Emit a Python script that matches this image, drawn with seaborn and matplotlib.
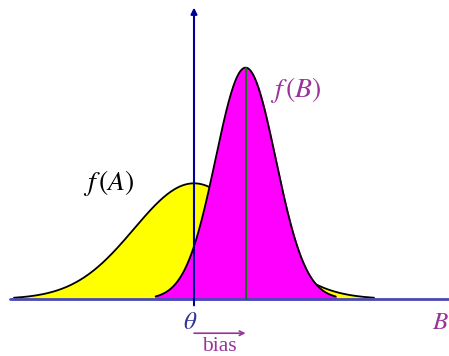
import numpy as np
import matplotlib
matplotlib.use("Agg")
import matplotlib.pyplot as plt
import seaborn as sns

# estimator distributions (theta = 0, units of sigma_A)
theta = 0.0
bias = 0.86
sigma_a = 1.0
sigma_b = 0.5
span = 3.0  # curves drawn over +/- 3 sigma


def normal_pdf(x, mu, s):
    return np.exp(-0.5 * ((x - mu) / s) ** 2) / (s * np.sqrt(2 * np.pi))


sns.set_style("white")
plt.rcParams["mathtext.fontset"] = "stix"

fig = plt.figure(figsize=(4.49, 3.56), dpi=100)
ax = fig.add_axes([0, 0, 1, 1])
ax.set_xlim(-194 / 60, (449 - 194) / 60)
ax.set_ylim(-(356 - 299) / 290, 299 / 290)
ax.axis("off")

xa = np.linspace(theta - span * sigma_a, theta + span * sigma_a, 400)
ya = normal_pdf(xa, theta, sigma_a)
xb = np.linspace(theta + bias - span * sigma_b, theta + bias + span * sigma_b, 400)
yb = normal_pdf(xb, theta + bias, sigma_b)

ax.fill_between(xa, 0, ya, color="#ffff00", zorder=1)
sns.lineplot(x=xa, y=ya, color="black", linewidth=1.3, ax=ax, zorder=2)
ax.fill_between(xb, 0, yb, color="#ff00ff", zorder=3)
sns.lineplot(x=xb, y=yb, color="black", linewidth=1.3, ax=ax, zorder=4)

# axes
ax.plot([-3.06, 4.3], [0, 0], color="#4848b8", linewidth=2, zorder=5)
ax.annotate("", xy=(theta, 1.005), xytext=(theta, -0.022),
            arrowprops=dict(arrowstyle="-|>", color="#000099", lw=1.5,
                            mutation_scale=9, shrinkA=0, shrinkB=0), zorder=6)
ax.plot([theta + bias, theta + bias], [0, normal_pdf(0, 0, sigma_b)],
        color="#008000", linewidth=1.3, zorder=6)

# labels
ax.text(-1.43, 0.40, "$f\\,(A)$", fontsize=20, color="black", ha="center", va="center")
ax.text(1.7, 0.72, "$f\\,(B)$", fontsize=20, color="#993399", ha="center", va="center")
ax.text(theta - 0.06, -0.08, r"$\theta$", fontsize=18, color="#333399", ha="center", va="center")
ax.text(4.1, -0.08, "$B$", fontsize=18, color="#993399", ha="center", va="center")
ax.annotate("", xy=(theta + bias, -0.118), xytext=(theta, -0.118),
            arrowprops=dict(arrowstyle="->", color="#993399", lw=1.2,
                            mutation_scale=8, shrinkA=0, shrinkB=0))
ax.text(theta + bias / 2, -0.163, "bias", fontsize=15.5, color="#993399",
        family="Liberation Serif", ha="center", va="center")

fig.savefig("out.png", dpi=100)
